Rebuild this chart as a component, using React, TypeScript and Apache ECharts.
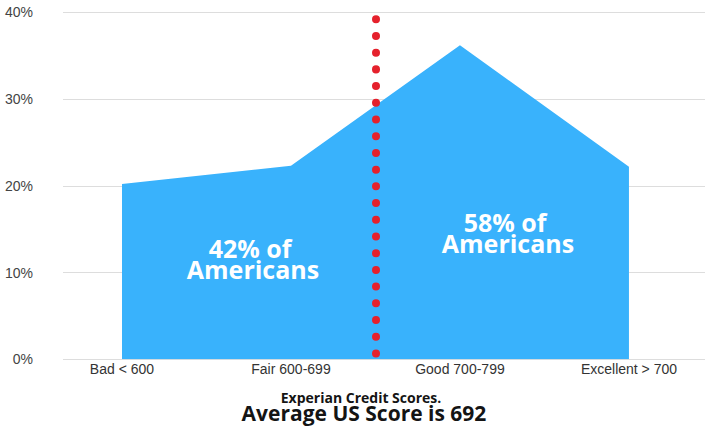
import React, { useEffect, useRef } from "react";
import * as echarts from "echarts";

const categories = ["Bad < 600", "Fair 600-699", "Good 700-799", "Excellent > 700"];
const shares = [20.2, 22.3, 36.2, 22.2];
const yTicks = [0, 10, 20, 30, 40];
const averageAt = 1.5;
const dotTop = 39.2;
const dotBottom = 0.65;
const titleTop = "Experian Credit Scores.";
const titleMain = "Average US Score is 692";
const leftNote = ["42% of", "Americans"];
const rightNote = ["58% of", "Americans"];

export default function App() {
  const ref = useRef<HTMLDivElement>(null);
  useEffect(() => {
    document.body.style.margin = "0";
    const chart = echarts.init(ref.current!, null, { renderer: "svg" });
    const note = (text: string, x: number, y: number) => ({
      type: "text",
      z: 100,
      x,
      y,
      style: {
        text,
        fill: "#ffffff",
        fontFamily: "Open Sans",
        fontWeight: "bold",
        fontSize: 25,
        align: "center",
        verticalAlign: "middle",
      },
    });
    chart.setOption({
      animation: false,
      backgroundColor: "#ffffff",
      title: [
        {
          text: titleTop,
          left: 361,
          textAlign: "center",
          top: 389,
          padding: 0,
          textStyle: { fontFamily: "Open Sans", fontWeight: "bold", fontSize: 14, color: "#141414", lineHeight: 17 },
        },
        {
          text: titleMain,
          left: 364,
          textAlign: "center",
          top: 401,
          padding: 0,
          textStyle: { fontFamily: "Open Sans", fontWeight: "bold", fontSize: 21, color: "#141414", lineHeight: 24 },
        },
      ],
      grid: { left: 63, right: 0, top: 12.3, bottom: 67.7 },
      xAxis: {
        type: "value",
        min: -0.349,
        max: 3.45,
        splitLine: { show: false },
        axisLine: { show: false },
        axisTick: { show: false },
        axisLabel: {
          customValues: [0, 1, 2, 3],
          formatter: (v: number) => categories[Math.round(v)] ?? "",
          fontFamily: "Liberation Sans",
          fontSize: 14,
          color: "#333333",
          margin: 3,
        },
      },
      yAxis: {
        type: "value",
        min: yTicks[0],
        max: yTicks[yTicks.length - 1],
        interval: 10,
        axisLine: { show: false },
        axisTick: { show: false },
        splitLine: { lineStyle: { color: "#dddddd", width: 1 } },
        axisLabel: {
          formatter: (v: number) => `${v}%`,
          fontFamily: "Liberation Sans",
          fontSize: 14,
          color: "#444444",
          margin: 30,
        },
      },
      series: [
        {
          type: "line",
          data: shares.map((v, i) => [i, v]),
          symbol: "none",
          lineStyle: { width: 0 },
          areaStyle: { color: "#39b2fc", opacity: 1 },
          silent: true,
          markLine: {
            silent: true,
            symbol: ["none", "none"],
            label: { show: false },
            lineStyle: { color: "#e5212c", width: 8, type: [0.01, 16.7], cap: "round", opacity: 1 },
            data: [[{ coord: [averageAt, dotTop] }, { coord: [averageAt, dotBottom] }]],
          },
        },
      ],
      graphic: [
        note(leftNote[0], 250, 248),
        note(leftNote[1], 253, 269),
        note(rightNote[0], 505, 222),
        note(rightNote[1], 508, 243),
      ],
    });
    return () => chart.dispose();
  }, []);
  return <div ref={ref} style={{ width: 705, height: 427 }} />;
}
